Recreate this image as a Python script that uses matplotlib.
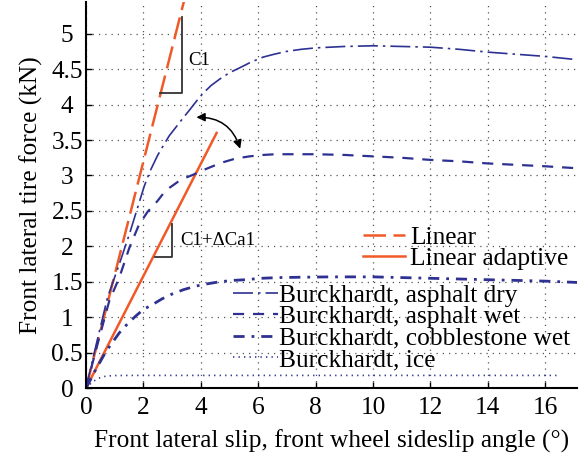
import numpy as np
import matplotlib.pyplot as plt
from matplotlib.patches import FancyArrowPatch

plt.rcParams['font.family'] = ['Liberation Serif', 'DejaVu Serif']

# slip angle (deg) and lateral force (kN)
lin_x = [0, 3.42]
lin_y = [0, 5.47]
adapt_x = [0, 4.55]
adapt_y = [0, 3.60]

dry_x = [0, 0.4, 0.75, 1.16, 1.51, 1.8, 2.03, 2.23, 2.49, 2.69, 2.9, 3.15, 3.4, 3.62,
         3.85, 4.08, 4.36, 4.66, 5.0, 5.36, 5.75, 6.17, 6.55, 6.98, 7.5, 8, 9, 10, 11,
         12, 13, 14, 15, 16, 17.2]
dry_y = [0, 0.69, 1.28, 1.75, 2.17, 2.55, 2.85, 3.06, 3.28, 3.42, 3.56, 3.69, 3.82, 3.93,
         4.05, 4.16, 4.27, 4.36, 4.45, 4.52, 4.60, 4.67, 4.71, 4.75, 4.78, 4.80, 4.82, 4.83, 4.82,
         4.81, 4.78, 4.74, 4.71, 4.68, 4.63]

wet_x = [0, 0.4, 0.81, 1.16, 1.51, 1.85, 2.15, 2.49, 2.7, 2.92, 3.2, 3.48, 3.73, 4.05,
         4.41, 4.8, 5.22, 5.7, 6.17, 6.6, 7.1, 8, 9, 10, 11, 12, 13, 14, 15, 16, 17.2]
wet_y = [0, 0.62, 1.23, 1.56, 1.98, 2.31, 2.49, 2.64, 2.75, 2.83, 2.91, 2.97, 3.01, 3.07,
         3.13, 3.19, 3.24, 3.27, 3.29, 3.30, 3.30, 3.30, 3.29, 3.27, 3.25, 3.22, 3.20, 3.17, 3.15,
         3.13, 3.10]

cob_x = [0, 0.35, 0.7, 1.16, 1.45, 1.74, 2.0, 2.32, 2.65, 3.01, 3.4, 3.83, 4.2, 4.64,
         5.1, 5.57, 6.1, 6.72, 7.5, 8.5, 10, 11, 12, 13, 14, 15, 16, 17.2]
cob_y = [0, 0.27, 0.52, 0.78, 0.91, 1.02, 1.11, 1.18, 1.26, 1.33, 1.39, 1.44, 1.47, 1.50,
         1.52, 1.53, 1.55, 1.56, 1.565, 1.57, 1.57, 1.56, 1.55, 1.54, 1.53, 1.52, 1.51, 1.49]

ice_x = [0, 0.2, 0.35, 0.5, 0.7, 1, 1.5, 2, 4, 8, 12, 16.5]
ice_y = [0, 0.08, 0.12, 0.15, 0.17, 0.178, 0.18, 0.18, 0.18, 0.18, 0.18, 0.18]

# slope triangles and arrow
c1_tri_x = [2.57, 3.34, 3.34]
c1_tri_y = [4.17, 4.17, 5.23]
ca_tri_x = [2.40, 2.99, 2.99]
ca_tri_y = [1.85, 1.85, 2.32]
arrow_from = (3.75, 3.82)
arrow_to = (5.40, 3.34)

orange = '#f05a28'
blue = '#2e3192'
fs = 18.3

fig = plt.figure(figsize=(5.85, 4.54), dpi=100)
ax = fig.add_axes([0.147, 0.145, 0.839, 0.851])

l_lin, = ax.plot(lin_x, lin_y, color=orange, lw=1.8, dashes=(9, 3), label='Linear')
l_ad, = ax.plot(adapt_x, adapt_y, color=orange, lw=1.8, label='Linear adaptive')
l_dry, = ax.plot(dry_x, dry_y, color=blue, lw=1.2, dashes=(12, 3, 1.5, 3),
                 label='Burckhardt, asphalt dry')
l_wet, = ax.plot(wet_x, wet_y, color=blue, lw=1.6, dashes=(5, 4),
                 label='Burckhardt, asphalt wet')
l_cob, = ax.plot(cob_x, cob_y, color=blue, lw=2.0, dashes=(4, 2.5, 1, 2.5),
                 label='Burckhardt, cobblestone wet')
l_ice, = ax.plot(ice_x, ice_y, color=blue, lw=1.2, dashes=(0.8, 2.5),
                 label='Burckhardt, ice')

ax.plot(c1_tri_x, c1_tri_y, color='#333333', lw=1.3)
ax.plot(ca_tri_x, ca_tri_y, color='#333333', lw=1.3)
ax.text(3.55, 4.62, 'C1', fontsize=13.5, va='center')
ax.text(3.3, 2.08, 'C1+ΔCa1', fontsize=13.5, va='center')
ax.add_patch(FancyArrowPatch(arrow_from, arrow_to, connectionstyle='arc3,rad=-0.4',
                             arrowstyle='<|-|>,head_length=5,head_width=2.5',
                             color='black', lw=1.1))

ax.set_xlim(0, 17.1)
ax.set_ylim(0, 5.45)
ax.set_xticks(np.arange(0, 17, 2))
ax.set_yticks(np.arange(0, 5.01, 0.5))
ax.set_yticklabels(['0', '0.5', '1', '1.5', '2', '2.5', '3', '3.5', '4', '4.5', '5'],
                   ha='center')
ax.tick_params(direction='in', labelsize=fs, length=4, width=1)
ax.tick_params(axis='x', pad=6)
ax.tick_params(axis='y', pad=13.5)
ax.grid(True, linestyle=(0, (1, 4)), color='#555555', lw=0.9)
for s in ['top', 'right']:
    ax.spines[s].set_visible(False)
for s in ['left', 'bottom']:
    ax.spines[s].set_linewidth(1.5)
ax.set_xlabel('Front lateral slip, front wheel sideslip angle (°)', fontsize=fs, labelpad=8)
ax.set_ylabel('Front lateral tire force (kN)', fontsize=fs, labelpad=6)

leg1 = ax.legend(handles=[l_lin, l_ad], loc='upper left', bbox_to_anchor=(0.564, 0.42),
                 frameon=False, fontsize=fs, handlelength=1.65, handletextpad=0.2,
                 labelspacing=-0.05, borderpad=0, borderaxespad=0)
ax.add_artist(leg1)
ax.legend(handles=[l_dry, l_wet, l_cob, l_ice], loc='upper left', bbox_to_anchor=(0.30, 0.27),
          frameon=False, fontsize=fs, handlelength=1.75, handletextpad=0.05,
          labelspacing=-0.05, borderpad=0, borderaxespad=0)

fig.savefig('out.png', dpi=100)
